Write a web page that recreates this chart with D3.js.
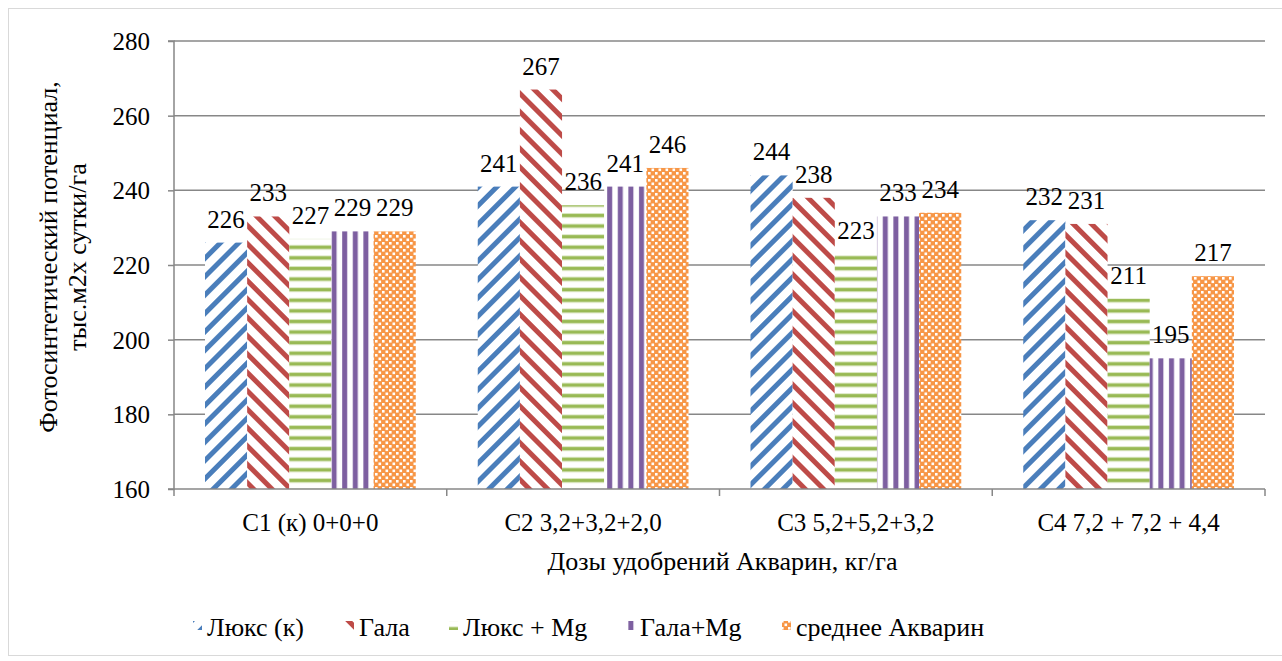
<!DOCTYPE html>
<html><head><meta charset="utf-8">
<script src="https://d3js.org/d3.v7.min.js"></script>
</head><body>
<svg id="c" width="1282" height="661"></svg>
<script>
const categories = ["С1 (к) 0+0+0", "С2 3,2+3,2+2,0", "С3 5,2+5,2+3,2", "С4 7,2 + 7,2 + 4,4"];
const seriesNames = ["Люкс (к)", "Гала", "Люкс + Mg", "Гала+Mg", "среднее Акварин"];
const luxK   = [226, 241, 244, 232];
const gala   = [233, 267, 238, 231];
const luxMg  = [227, 236, 223, 211];
const galaMg = [229, 241, 233, 195];
const avgAkv = [229, 246, 234, 217];
const yTicks = [160, 180, 200, 220, 240, 260, 280];
const yTitle = ["Фотосинтетический потенциал,", "тыс.м2х сутки/га"];
const xTitle = "Дозы удобрений Акварин, кг/га";

d3.select("body").style("margin","0px");
const seriesVals = [luxK, gala, luxMg, galaMg, avgAkv];
const svg = d3.select("#c").style("display","block");
const FONT = '"Liberation Serif"';
const m = {l:174, r:1265, t:41, b:489};
function txt(sel, size){ return sel.style("font-family",FONT).attr("font-size",size); }

// patterns
const defs = svg.append("defs");
const blue="#4a7ebb", red="#be4b48", green="#98b954", purple="#7d5fa0", orange="#f79646";
function diag(id, color, dir){
  const p = defs.append("pattern").attr("id",id).attr("patternUnits","userSpaceOnUse")
    .attr("width",13).attr("height",13).attr("patternTransform","rotate("+(dir>0?45:-45)+")");
  p.append("rect").attr("width",13).attr("height",13).attr("fill","#fff");
  p.append("rect").attr("x",0).attr("width",5).attr("height",13).attr("fill",color);
}
diag("p0", blue, 1);
diag("p1", red, -1);
{
  const p = defs.append("pattern").attr("id","p2").attr("patternUnits","userSpaceOnUse").attr("width",10).attr("height",10.6);
  p.append("rect").attr("width",10).attr("height",10.6).attr("fill","#fff");
  p.append("rect").attr("y",2).attr("width",10).attr("height",3).attr("fill",green);
  p.append("rect").attr("y",1).attr("width",10).attr("height",5).attr("fill",green).attr("opacity",0.35);
}
{
  const p = defs.append("pattern").attr("id","p3").attr("patternUnits","userSpaceOnUse").attr("width",10.6).attr("height",10);
  p.append("rect").attr("width",10.6).attr("height",10).attr("fill","#fff");
  p.append("rect").attr("x",3).attr("width",5).attr("height",10).attr("fill",purple);
}
{
  const p = defs.append("pattern").attr("id","p4").attr("patternUnits","userSpaceOnUse").attr("width",7).attr("height",7);
  p.append("rect").attr("width",7).attr("height",7).attr("fill",orange);
  p.append("rect").attr("x",0.5).attr("y",0.5).attr("width",2.6).attr("height",2.6).attr("fill","#fff");
  p.append("rect").attr("x",4).attr("y",4).attr("width",2.6).attr("height",2.6).attr("fill","#fff");
}

// border
svg.append("rect").attr("x",8.5).attr("y",8.5).attr("width",1290).attr("height",647)
  .attr("fill","none").attr("stroke","#d9d9d9").attr("stroke-width",1);

const y = d3.scaleLinear().domain([160,280]).range([m.b,m.t]);
const x0 = d3.scaleBand().domain(categories).range([m.l,m.r]).paddingInner(0).paddingOuter(0);
const x1 = d3.scaleBand().domain(d3.range(5)).range([31, x0.bandwidth()-31]).padding(0);

// gridlines
svg.append("g").selectAll("line").data(yTicks.slice(1)).join("line")
  .attr("x1",m.l).attr("x2",m.r).attr("y1",d=>y(d)).attr("y2",d=>y(d))
  .attr("stroke","#878787").attr("stroke-width",1.5);

// bars
const g = svg.append("g");
categories.forEach((c,ci)=>{
  seriesVals.forEach((vals,si)=>{
    const v = vals[ci];
    g.append("rect").attr("x",x0(c)+x1(si)).attr("y",y(v))
      .attr("width",x1.bandwidth()).attr("height",y(160)-y(v))
      .attr("fill","url(#p"+si+")");
    txt(g.append("text"),25).attr("x",x0(c)+x1(si)+x1.bandwidth()/2).attr("y",y(v)-15)
      .attr("text-anchor","middle").attr("fill","#000").text(v);
  });
});

// y axis
const ya = svg.append("g").attr("transform",`translate(${m.l},0)`)
  .call(d3.axisLeft(y).tickValues(yTicks).tickSize(6).tickPadding(18));
ya.attr("font-family",null).attr("font-size",null);
ya.select(".domain").attr("stroke","#878787").attr("stroke-width",1.5).attr("d",`M-6,${m.t}H0V${m.b}H-6`);
ya.selectAll(".tick line").attr("stroke","#878787").attr("stroke-width",1.5);
txt(ya.selectAll(".tick text"),25).attr("fill","#000").attr("dy","0.34em");

// x axis
const xa = svg.append("g").attr("transform",`translate(0,${m.b})`);
xa.append("line").attr("x1",m.l).attr("x2",m.r).attr("stroke","#878787").attr("stroke-width",1.5);
xa.selectAll(".tk").data(d3.range(categories.length+1)).join("line")
  .attr("x1",i=>m.l+i*x0.bandwidth()).attr("x2",i=>m.l+i*x0.bandwidth())
  .attr("y1",0).attr("y2",7).attr("stroke","#878787").attr("stroke-width",1.5);
txt(xa.selectAll("text").data(categories).join("text"),25)
  .attr("x",d=>x0(d)+x0.bandwidth()/2).attr("y",42)
  .attr("text-anchor","middle").text(d=>d);

// titles
txt(svg.append("text"),26).attr("x",(m.l+m.r)/2+3).attr("y",570).attr("text-anchor","middle").text(xTitle);
const yt = txt(svg.append("text"),26).attr("transform","translate(57,257) rotate(-90)").attr("text-anchor","middle");
yt.append("tspan").attr("x",0).attr("y",0).text(yTitle[0]);
yt.append("tspan").attr("x",0).attr("y",29).text(yTitle[1]);

// legend
const legX = [207, 359, 463, 640, 796];
const lg = svg.append("g");
seriesNames.forEach((n,i)=>{
  lg.append("rect").attr("x",legX[i]-14).attr("y",621).attr("width",9).attr("height",9).attr("fill","url(#p"+i+")");
  txt(lg.append("text"),26).attr("x",legX[i]).attr("y",636).text(n);
});
</script>
</body></html>
